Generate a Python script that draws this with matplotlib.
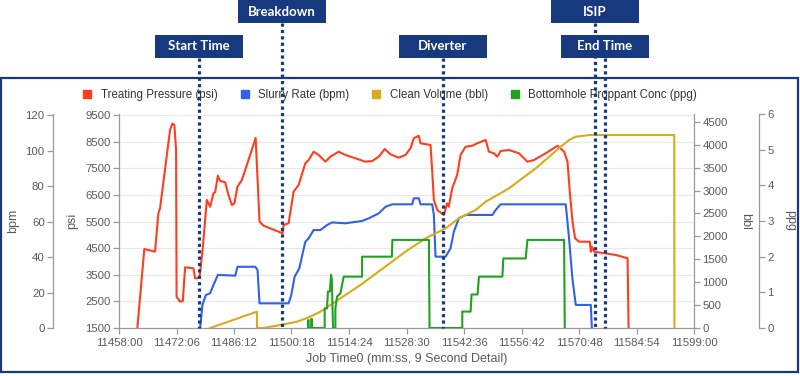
import matplotlib
matplotlib.use("Agg")
import matplotlib.pyplot as plt
import numpy as np
from matplotlib.lines import Line2D
from matplotlib.patches import Rectangle
from matplotlib.ticker import FuncFormatter
from matplotlib.transforms import blended_transform_factory

plt.rcParams['font.family'] = ['Liberation Sans', 'DejaVu Sans']

# job time in minutes (mm.fraction)
pressure_t = [11462.50, 11464.21, 11466.84, 11467.65, 11468.07, 11470.53, 11471.10, 11471.58, 11472.00,
              11472.12, 11472.98, 11473.65, 11474.21, 11476.25, 11476.67, 11477.72, 11478.46,
              11479.54, 11480.35, 11481.16, 11481.58, 11482.24, 11482.81, 11484.04, 11484.85,
              11485.68, 11486.32, 11487.03, 11488.14, 11491.51, 11492.46, 11493.45, 11498.11,
              11498.36, 11499.59, 11500.82, 11502.04, 11503.69, 11504.50, 11505.73, 11506.96,
              11508.60, 11509.83, 11511.87, 11513.51, 11515.97, 11518.43, 11520.07, 11521.69,
              11523.17, 11524.57, 11526.61, 11528.25, 11529.48, 11530.29, 11531.52, 11531.94,
              11534.39, 11534.81, 11535.21, 11536.04, 11537.66, 11538.47, 11538.87, 11539.70,
              11540.93, 11541.75, 11542.99, 11544.63, 11545.86, 11547.91, 11548.71, 11549.94,
              11550.78, 11551.59, 11553.63, 11556.08, 11558.15, 11559.77, 11562.64, 11565.52,
              11567.14, 11567.98, 11568.54, 11569.21, 11569.84, 11570.83, 11573.46, 11573.70,
              11573.95, 11574.51, 11579.84, 11582.71, 11582.96]
pressure_psi = [1500, 4467, 4366, 5808, 5996, 8950, 9180, 9125, 8186,
                2676, 2488, 2514, 3780, 3742, 3367, 3378, 4366,
                6308, 6056, 6559, 6597, 7220, 7021, 6972, 6495,
                6120, 6184, 6807, 7059, 8636, 5493, 5342, 5057,
                5369, 5433, 6620, 6871, 7686, 7810, 8122, 7998,
                7746, 7934, 8122, 7998, 7874, 7746, 7772, 7934,
                8223, 8024, 7896, 7998, 8250, 8625, 8723, 8438,
                8373, 7371, 6308, 5932, 5745, 6184, 6056, 6747,
                7247, 7998, 8310, 8347, 8438, 8562, 8122, 8062,
                7934, 8148, 8186, 8062, 7746, 7810, 8062, 8347,
                8122, 7746, 6620, 5493, 4869, 4741, 4741, 4366,
                4554, 4366, 4242, 4118, 1500]

rate_t = [11477.90, 11478.46, 11479.30, 11480.35, 11481.16, 11482.24, 11486.49, 11487.06,
          11491.41, 11491.97, 11492.46, 11499.59, 11500.25, 11501.06, 11502.21, 11503.69,
          11504.50, 11505.73, 11507.37, 11509.02, 11510.24, 11513.51, 11517.61, 11519.24,
          11521.69, 11523.34, 11524.98, 11529.89, 11530.29, 11531.52, 11531.94, 11534.81,
          11535.21, 11535.62, 11538.08, 11539.30, 11540.11, 11541.34, 11542.99, 11549.55,
          11550.36, 11551.59, 11567.55, 11568.36, 11569.18, 11570.01, 11573.70, 11573.95]
rate_bpm = [0, 13.0, 18.6, 19.6, 24.2, 29.9, 29.5, 34.5,
            34.5, 32.7, 13.9, 13.9, 18.6, 28.9, 33.6, 48.6,
            50.5, 55.2, 55.2, 58.0, 59.5, 59.0, 60.3, 61.8,
            64.6, 68.3, 69.7, 69.7, 73.1, 73.1, 69.7, 69.7,
            63.7, 40.2, 40.2, 44.9, 54.3, 61.8, 63.7, 63.7,
            66.5, 69.7, 69.7, 50.5, 28.0, 13.0, 13.0, 0]

volume_t = [11480.35, 11491.82, 11491.85, 11493.45, 11497.55, 11501.65, 11504.92, 11507.37,
            11512.29, 11517.20, 11523.76, 11528.25, 11533.15, 11538.08, 11541.34, 11545.45,
            11547.91, 11553.63, 11560.19, 11566.33, 11568.37, 11570.01, 11573.28, 11594.16,
            11594.20]
volume_bbl = [0, 356, 0, 0, 65, 137, 247, 356,
              648, 938, 1370, 1665, 1956, 2175, 2394, 2575,
              2756, 3048, 3485, 3956, 4102, 4174, 4211, 4211,
              0]

conc_t = [11504.35, 11504.35, 11504.50, 11504.50, 11505.16, 11505.16, 11505.30, 11505.30,
          11508.43, 11508.43, 11509.02, 11509.22, 11509.70, 11510.00, 11510.19, 11510.49,
          11511.06, 11511.06, 11511.47, 11512.29, 11513.10, 11517.61, 11517.61, 11524.91,
          11525.03, 11533.99, 11534.15, 11542.18, 11542.18, 11544.22, 11544.46, 11545.94,
          11546.26, 11552.01, 11552.25, 11557.73, 11558.15, 11567.14, 11567.31]
conc_ppg = [0, 0.22, 0.22, 0, 0, 0.25, 0.25, 0,
            0, 0.55, 0.55, 1.02, 1.02, 1.49, 1.35, 0,
            0, 0.55, 0.88, 0.97, 1.44, 1.44, 2.0, 2.0,
            2.47, 2.47, 0, 0, 0.46, 0.46, 0.94, 0.94,
            1.44, 1.44, 1.95, 1.95, 2.47, 2.47, 0]

events = ['Start Time', 'Breakdown', 'Diverter', 'ISIP', 'End Time']
event_t = [11477.65, 11497.92, 11537.34, 11574.68, 11577.14]
event_row = [1, 0, 1, 0, 1]

series_names = ['Treating Pressure (psi)', 'Slurry Rate (bpm)', 'Clean Volume (bbl)',
                'Bottomhole Proppant Conc (ppg)']
colors = ['#ff3d1f', '#2f62e6', '#d9aa1c', '#1fa31f']
navy = '#173a7e'
axis_c = '#999999'
label_c = '#5a5a5a'

W, H = 800, 376
fig = plt.figure(figsize=(W / 100, H / 100), dpi=100)
ax = fig.add_axes([119 / W, 1 - 328 / H, 575 / W, 214 / H])
ax_bpm = ax.twinx()
ax_bbl = ax.twinx()
ax_ppg = ax.twinx()

ax.plot(pressure_t, pressure_psi, color=colors[0], lw=1.5)
ax_bpm.plot(rate_t, rate_bpm, color=colors[1], lw=1.5)
ax_bbl.plot(volume_t, volume_bbl, color=colors[2], lw=1.5)
ax_ppg.plot(conc_t, conc_ppg, color=colors[3], lw=1.5)

ax.set_xlim(11458, 11599)
ax.set_ylim(1500, 9538)
ax_bpm.set_ylim(0, 120.6)
ax_bbl.set_ylim(0, 4670)
ax_ppg.set_ylim(0, 6)

xt = 11458 + np.arange(11) * 14.1
ax.set_xticks(xt)


def mmss(v, pos):
    sec = int(round(v * 60))
    return f"{sec // 60}:{sec % 60:02d}"


ax.xaxis.set_major_formatter(FuncFormatter(mmss))
ax.set_yticks(np.arange(1500, 9501, 1000))
ax_bpm.set_yticks(np.arange(0, 121, 20))
ax_bbl.set_yticks(np.arange(0, 4501, 500))
ax_ppg.set_yticks(np.arange(0, 7, 1))

ax.grid(axis='y', color='#e8e8e8', lw=0.8)
ax.set_axisbelow(True)

for a in [ax, ax_bpm, ax_bbl, ax_ppg]:
    for s in a.spines.values():
        s.set_visible(False)
        s.set_color(axis_c)
        s.set_linewidth(0.9)
    a.tick_params(colors=axis_c, labelcolor=label_c, labelsize=8.2, length=4, width=0.9, pad=2)

ax.spines['left'].set_visible(True)
ax.spines['bottom'].set_visible(True)
ax.tick_params(axis='x', pad=3)

ax_bpm.spines['left'].set_visible(True)
ax_bpm.spines['left'].set_position(('outward', 66 * 0.72))
ax_bpm.yaxis.set_ticks_position('left')
ax_bpm.yaxis.set_label_position('left')

ax_bbl.spines['right'].set_visible(True)
ax_ppg.spines['right'].set_visible(True)
ax_ppg.spines['right'].set_position(('outward', 65 * 0.72))

lab = dict(fontsize=9, color=label_c, va='center', ha='center')
ax.set_ylabel('psi', **lab)
ax_bpm.set_ylabel('bpm', **lab)
ax_bbl.set_ylabel('bbl', rotation=270, **lab)
ax_ppg.set_ylabel('ppg', rotation=270, **lab)
ax.yaxis.set_label_coords((72 - 119) / 575, 0.5)
ax_bpm.yaxis.set_label_coords((13 - 119) / 575, 0.5)
ax_bbl.yaxis.set_label_coords((745 - 119) / 575, 0.5)
ax_ppg.yaxis.set_label_coords((790 - 119) / 575, 0.5)
ax.set_xlabel('Job Time0 (mm:ss, 9 Second Detail)', fontsize=9, color=label_c, labelpad=4)

handles = [Line2D([], [], ls='none', marker='s', markersize=6, color=c) for c in colors]
fig.legend(handles, series_names, loc='center', bbox_to_anchor=(390 / W, 1 - 95 / H),
           ncol=4, frameon=False, fontsize=8.3, handlelength=0.8, handletextpad=0.8,
           columnspacing=1.9, labelcolor='#333333')

# outer frame
fig.add_artist(Rectangle((1 / W, 1 - 372 / H), 797 / W, 294 / H, transform=fig.transFigure,
                         fill=False, edgecolor=navy, lw=1.6, zorder=1))

# event markers
tr = blended_transform_factory(ax.transData, fig.transFigure)
box_w = 88 * 141 / 575
for name, t, row in zip(events, event_t, event_row):
    top = 1 - (0 if row == 0 else 35) / H
    bot = 1 - (23 if row == 0 else 58) / H
    fig.add_artist(Rectangle((t - box_w / 2, bot), box_w, top - bot, transform=tr,
                             facecolor=navy, edgecolor='none', zorder=11))
    fig.text(t, (top + bot) / 2, name, transform=tr, ha='center', va='center',
             color='white', fontsize=9.5, fontweight='bold', family='Lato', zorder=12)
    fig.add_artist(Line2D([t, t], [bot, 1 - 328 / H], transform=tr, color=navy,
                          lw=2.3, ls=(0, (1, 1)), zorder=10))

fig.savefig('out.png', dpi=100, facecolor='white')
